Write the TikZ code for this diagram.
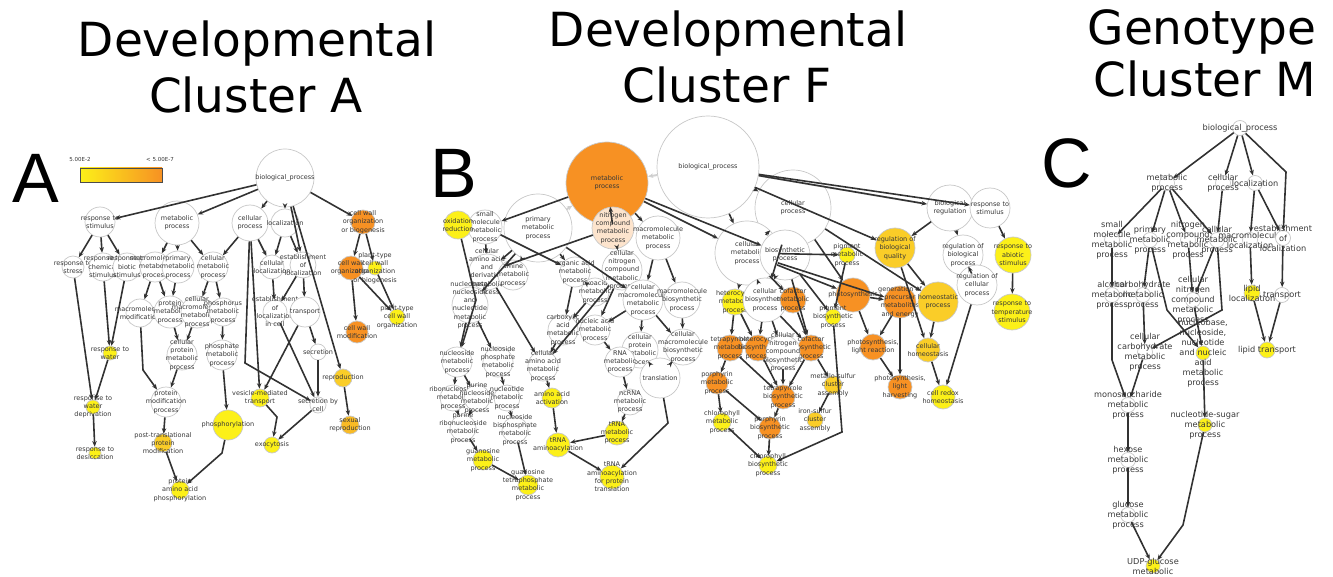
\documentclass[tikz,border=0pt]{standalone}
\usepackage{fontspec}
\newfontfamily\termfont{DejaVu Sans}
\newfontfamily\headfont{DejaVu Sans}
\newfontfamily\panelfont{Liberation Sans}
\usetikzlibrary{arrows.meta}
\definecolor{pvalLow}{RGB}{252,240,25}
\definecolor{pvalMid}{RGB}{250,205,40}
\definecolor{pvalHigh}{RGB}{247,145,35}
\definecolor{pvalPeach}{RGB}{253,228,205}
\definecolor{rimGray}{RGB}{200,200,200}
\definecolor{edgeDark}{RGB}{50,50,50}
\definecolor{labelInk}{RGB}{55,55,55}
\tikzset{
  term/.style={circle, draw=rimGray, line width=0.7pt, inner sep=0pt},
  wt/.style={term, fill=white},
  yl/.style={term, fill=pvalLow},
  gd/.style={term, fill=pvalMid},
  og/.style={term, fill=pvalHigh},
  pc/.style={term, fill=pvalPeach},
  lbl/.style={font=\termfont\fontsize{6.5}{8.3}\selectfont, text=labelInk, align=center, inner sep=0pt},
  lblC/.style={font=\termfont\fontsize{8.2}{10}\selectfont, text=labelInk, align=center, inner sep=0pt},
  txt/.style={label={[lbl]center:{#1}}},
  txtC/.style={label={[lblC]center:{#1}}},
  link/.style={-{Stealth[length=5.5pt,width=4.5pt]}, line width=1.6pt, draw=edgeDark},
  faintlink/.style={link, draw=black!18, line width=2pt},
  headline/.style={font=\headfont\fontsize{47}{57}\selectfont, anchor=base},
  panel/.style={font=\panelfont\fontsize{70}{80}\selectfont, anchor=base}
}
\begin{document}
\begin{tikzpicture}[x=1pt, y=-1pt]
\useasboundingbox (0,0) rectangle (1333,577);

% headings
\node[headline] (headA1) at (257,57)  {Developmental};
\node[headline] (headA2) at (256,113) {Cluster A};
\node[headline] (headB1) at (728,47)  {Developmental};
\node[headline] (headB2) at (727,103) {Cluster F};
\node[headline] (headC1) at (1202,45) {Genotype};
\node[headline] (headC2) at (1205,97) {Cluster M};
\node[panel] (letA) at (36,203)   {A};
\node[panel] (letB) at (454,198)  {B};
\node[panel] (letC) at (1067,188) {C};

% p-value colour scale
\shade[left color=pvalLow, right color=pvalHigh, draw=black!70, line width=0.5pt]
  (80,168) rectangle (162,182);
\node[lbl, font=\termfont\fontsize{5.5}{6}\selectfont] (scaleLo) at (80,159)  {5.00E-2};
\node[lbl, font=\termfont\fontsize{5.5}{6}\selectfont] (scaleHi) at (160,159) {< 5.00E-7};

%% ---------------- panel A ----------------
\node[wt, minimum size=58, txt={biological\_process}] (bpA) at (285,178) {};
\node[wt, minimum size=30, txt={response to\\stimulus}] (rstimA) at (100,222) {};
\node[wt, minimum size=44, txt={metabolic\\process}] (metA) at (177,223) {};
\node[wt, minimum size=36, txt={cellular\\process}] (cellA) at (250,223) {};
\node[wt, minimum size=28, txt={localization}] (locA) at (285,223) {};
\node[og, minimum size=24, txt={cell wall\\organization\\or biogenesis}] (cwobA) at (363,222) {};
\node[wt, minimum size=22, txt={response to\\stress}] (rstressA) at (73,267) {};
\node[wt, minimum size=28, txt={response to\\chemical\\stimulus}] (rchemA) at (103,267) {};
\node[wt, minimum size=28, txt={response to\\biotic\\stimulus}] (rbioA) at (127,267) {};
\node[wt, minimum size=30, txt={macromolecule\\metabolic\\process}] (macmetA) at (155,267) {};
\node[wt, minimum size=32, txt={primary\\metabolic\\process}] (primA) at (178,267) {};
\node[wt, minimum size=30, txt={cellular\\metabolic\\process}] (cellmetA) at (213,267) {};
\node[wt, minimum size=24, txt={cellular\\localization}] (cellocA) at (272,267) {};
\node[wt, minimum size=26, txt={establishment\\of\\localization}] (estlocA) at (303,265) {};
\node[og, minimum size=24, txt={cell wall\\organization}] (cwoA) at (351,268) {};
\node[yl, minimum size=14, txt={plant-type\\cell wall\\organization\\or biogenesis}] (ptcwobA) at (375,268) {};
\node[yl, minimum size=16, txt={plant-type\\cell wall\\organization}] (ptcwA) at (397,317) {};
\node[og, minimum size=22, txt={cell wall\\modification}] (cwmA) at (357,332) {};
\node[wt, minimum size=28, txt={macromolecule\\modification}] (macmodA) at (140,313) {};
\node[wt, minimum size=32, txt={protein\\metabolic\\process}] (protmetA) at (170,312) {};
\node[wt, minimum size=32, txt={cellular\\macromolecule\\metabolic\\process}] (cmacmetA) at (197,312) {};
\node[wt, minimum size=28, txt={phosphorus\\metabolic\\process}] (phosphorusA) at (223,312) {};
\node[wt, minimum size=24, txt={establishment\\of\\localization\\in cell}] (elcA) at (275,312) {};
\node[wt, minimum size=30, txt={transport}] (transA) at (305,312) {};
\node[yl, minimum size=14, txt={response to\\water}] (rwaterA) at (110,353) {};
\node[wt, minimum size=30, txt={cellular\\protein\\metabolic\\process}] (cprotA) at (182,355) {};
\node[wt, minimum size=30, txt={phosphate\\metabolic\\process}] (phosphateA) at (222,355) {};
\node[wt, minimum size=16, txt={secretion}] (secA) at (318,352) {};
\node[gd, minimum size=18, txt={reproduction}] (reprA) at (343,378) {};
\node[wt, minimum size=30, txt={protein\\modification\\process}] (protmodA) at (166,402) {};
\node[yl, minimum size=14, txt={response to\\water\\deprivation}] (rwdA) at (93,407) {};
\node[yl, minimum size=18, txt={vesicle-mediated\\transport}] (vesA) at (260,398) {};
\node[wt, minimum size=16, txt={secretion by\\cell}] (secbcA) at (318,405) {};
\node[yl, minimum size=30, txt={phosphorylation}] (phosA) at (228,425) {};
\node[gd, minimum size=18, txt={post-translational\\protein\\modification}] (ptmA) at (163,443) {};
\node[yl, minimum size=12, txt={response to\\desiccation}] (rdesA) at (95,453) {};
\node[yl, minimum size=16, txt={exocytosis}] (exoA) at (272,445) {};
\node[gd, minimum size=18, fill=pvalMid!70!pvalHigh, txt={sexual\\reproduction}] (sexA) at (350,425) {};
\node[yl, minimum size=18, txt={protein\\amino acid\\phosphorylation}] (paapA) at (180,490) {};

\draw[link] (bpA) edge (rstimA) edge (metA) edge (cellA) edge (locA) edge (estlocA) edge (cwobA) edge (reprA);
\draw[link] (rstimA) edge (rstressA) edge (rchemA) edge (rbioA);
\draw[link] (metA) edge (macmetA) edge (primA) edge (cellmetA);
\draw[link] (cellA) edge (cellmetA) edge (cellocA) edge (vesA);
\draw[link] (cellA) -- (245,363) -- (secbcA);
\draw[link] (locA) edge (cellocA) edge (estlocA);
\draw[link] (cwobA) edge (cwoA) edge (ptcwobA);
\draw[link] (cwoA) edge (cwmA) edge (ptcwA);
\draw[link] (ptcwobA) edge (ptcwA);
\draw[link] (rstressA) edge (rwdA);
\draw[link] (rchemA) edge (rwaterA);
\draw[link] (rbioA) edge (rwaterA);
\draw[link] (rwaterA) edge (rwdA);
\draw[link] (rwdA) edge (rdesA);
\draw[link] (macmetA) edge (macmodA) edge (protmetA);
\draw[link] (primA) edge (protmetA);
\draw[link] (cellmetA) edge (cmacmetA) edge (phosphorusA);
\draw[link] (macmodA) -- (143,370) -- (protmodA);
\draw[link] (protmetA) edge (cprotA);
\draw[link] (cmacmetA) edge (cprotA);
\draw[link] (cprotA) edge (protmodA);
\draw[link] (phosphorusA) edge (phosphateA);
\draw[link] (phosphateA) edge (phosA);
\draw[link] (protmodA) edge (ptmA);
\draw[link] (ptmA) edge (paapA);
\draw[link] (phosA) -- (222,453) -- (paapA);
\draw[link] (estlocA) edge (transA) edge (elcA);
\draw[link] (cellocA) edge (elcA);
\draw[link] (transA) edge (vesA) edge (secA);
\draw[link] (elcA) edge (secbcA);
\draw[link] (secA) edge (secbcA);
\draw[link] (vesA) -- (277,417) -- (exoA);
\draw[link] (secbcA) edge (exoA);
\draw[link] (reprA) edge (sexA);

%% ---------------- panel B ----------------
\node[wt, minimum size=102, txt={biological\_process}] (bpB) at (708,167) {};
\node[og, minimum size=82, txt={metabolic\\process}] (metB) at (607,183) {};
\node[wt, minimum size=76, txt={cellular\\process}] (cellB) at (793,208) {};
\node[wt, minimum size=68, txt={primary\\metabolic\\process}] (primB) at (538,228) {};
\node[wt, minimum size=34, txt={small\\molecule\\metabolic\\process}] (smB) at (485,227) {};
\node[yl, minimum size=28, txt={oxidation\\reduction}] (oxB) at (458,225) {};
\node[pc, minimum size=42, txt={nitrogen\\compound\\metabolic\\process}] (nitB) at (613,228) {};
\node[wt, minimum size=44, txt={macromolecule\\metabolic\\process}] (macB) at (658,238) {};
\node[wt, minimum size=64, txt={cellular\\metabolic\\process}] (cmetB) at (747,253) {};
\node[wt, minimum size=50, txt={biosynthetic\\process}] (biosB) at (785,255) {};
\node[wt, minimum size=46, txt={biological\\regulation}] (bregB) at (950,208) {};
\node[wt, minimum size=40, txt={response to\\stimulus}] (rstimB) at (990,208) {};
\node[yl, minimum size=16, txt={pigment\\metabolic\\process}] (pigB) at (847,255) {};
\node[gd, minimum size=40, txt={regulation of\\biological\\quality}] (rbqB) at (895,248) {};
\node[wt, minimum size=40, txt={regulation of\\biological\\process}] (rbpB) at (963,255) {};
\node[yl, minimum size=36, txt={response to\\abiotic\\stimulus}] (rasB) at (1013,255) {};
\node[wt, minimum size=40, txt={regulation of\\cellular\\process}] (rcpB) at (977,285) {};
\node[og, minimum size=34, txt={photosynthesis}] (photB) at (853,295) {};
\node[og, minimum size=32, txt={generation of\\precursor\\metabolites\\and energy}] (genB) at (900,302) {};
\node[gd, minimum size=40, txt={homeostatic\\process}] (homB) at (938,302) {};
\node[yl, minimum size=36, txt={response to\\temperature\\stimulus}] (rtsB) at (1012,312) {};
\node[yl, minimum size=16, txt={pigment\\biosynthetic\\process}] (pbioB) at (833,317) {};
\node[og, minimum size=26, txt={photosynthesis,\\light reaction}] (plrB) at (873,347) {};
\node[gd, minimum size=24, txt={cellular\\homeostasis}] (chomB) at (928,350) {};
\node[og, minimum size=24, txt={photosynthesis,\\light\\harvesting}] (plhB) at (900,387) {};
\node[yl, minimum size=24, txt={cell redox\\homeostasis}] (crhB) at (943,397) {};
\node[og, minimum size=26, txt={cofactor\\biosynthetic\\process}] (cofbB) at (811,348) {};
\node[gd, minimum size=18, txt={metallo-sulfur\\cluster\\assembly}] (mscB) at (833,385) {};
\node[gd, minimum size=16, txt={iron-sulfur\\cluster\\assembly}] (iscB) at (815,420) {};

\node[wt, minimum size=36, txt={cellular\\amino acid\\and\\derivative\\metabolic\\process}] (caadB) at (487,272) {};
\node[wt, minimum size=30, txt={amine\\metabolic\\process}] (amineB) at (513,275) {};
\node[wt, minimum size=36, txt={nucleobase,\\nucleoside\\and\\nucleotide\\metabolic\\process}] (ncaB) at (470,305) {};
\node[wt, minimum size=30, txt={organic acid\\metabolic\\process}] (oaB) at (575,272) {};
\node[wt, minimum size=28, txt={oxoacid\\metabolic\\process}] (oxoB) at (595,292) {};
\node[wt, minimum size=40, txt={cellular\\nitrogen\\compound\\metabolic\\process}] (cncB) at (622,270) {};
\node[wt, minimum size=30, txt={carboxylic\\acid\\metabolic\\process}] (carbB) at (563,330) {};
\node[wt, minimum size=30, txt={nucleic acid\\metabolic\\process}] (nucaB) at (595,330) {};
\node[wt, minimum size=40, txt={cellular\\macromolecule\\metabolic\\process}] (cmmB) at (643,300) {};
\node[wt, minimum size=36, txt={macromolecule\\biosynthetic\\process}] (mbsB) at (682,300) {};
\node[wt, minimum size=36, txt={cellular\\protein\\metabolic\\process}] (cpmB) at (640,350) {};
\node[wt, minimum size=36, txt={cellular\\macromolecule\\biosynthetic\\process}] (cmbB) at (683,347) {};
\node[wt, minimum size=40, txt={translation}] (trlB) at (660,378) {};
\node[wt, minimum size=30, txt={RNA\\metabolic\\process}] (rnaB) at (620,362) {};
\node[wt, minimum size=26, txt={ncRNA\\metabolic\\process}] (ncrB) at (630,402) {};
\node[yl, minimum size=24, txt={tRNA\\metabolic\\process}] (trnaB) at (617,433) {};
\node[wt, minimum size=30, txt={cellular\\amino acid\\metabolic\\process}] (caaB) at (543,366) {};
\node[yl, minimum size=20, txt={amino acid\\activation}] (aaaB) at (552,398) {};
\node[yl, minimum size=24, txt={tRNA\\aminoacylation}] (traB) at (558,445) {};
\node[yl, minimum size=24, txt={tRNA\\aminoacylation\\for protein\\translation}] (trpB) at (612,477) {};
\node[wt, minimum size=30, txt={nucleoside\\metabolic\\process}] (nsmB) at (457,362) {};
\node[wt, minimum size=30, txt={nucleoside\\phosphate\\metabolic\\process}] (nspB) at (498,362) {};
\node[wt, minimum size=26, txt={ribonucleoside\\metabolic\\process}] (rnsB) at (453,398) {};
\node[wt, minimum size=26, txt={purine\\nucleoside\\metabolic\\process}] (pnsB) at (477,398) {};
\node[wt, minimum size=26, txt={nucleotide\\metabolic\\process}] (ntB) at (507,398) {};
\node[wt, minimum size=26, txt={purine\\ribonucleoside\\metabolic\\process}] (prnB) at (463,428) {};
\node[wt, minimum size=26, txt={nucleoside\\bisphosphate\\metabolic\\process}] (nbpB) at (515,430) {};
\node[yl, minimum size=20, txt={guanosine\\metabolic\\process}] (guaB) at (483,460) {};
\node[yl, minimum size=20, txt={guanosine\\tetraphosphate\\metabolic\\process}] (gtpB) at (528,485) {};
\node[yl, minimum size=26, txt={heterocycle\\metabolic\\process}] (hetB) at (735,302) {};
\node[wt, minimum size=44, txt={cellular\\biosynthetic\\process}] (cbsB) at (765,300) {};
\node[og, minimum size=26, txt={cofactor\\metabolic\\process}] (cofmB) at (793,300) {};
\node[og, minimum size=26, txt={tetrapyrrole\\metabolic\\process}] (tpmB) at (730,348) {};
\node[og, minimum size=26, txt={heterocycle\\biosynthetic\\process}] (hbsB) at (758,348) {};
\node[wt, minimum size=34, txt={cellular\\nitrogen\\compound\\biosynthetic\\process}] (cnbB) at (783,352) {};
\node[og, minimum size=22, txt={porphyrin\\metabolic\\process}] (porB) at (717,383) {};
\node[og, minimum size=24, txt={tetrapyrrole\\biosynthetic\\process}] (tpbB) at (783,397) {};
\node[yl, minimum size=18, txt={chlorophyll\\metabolic\\process}] (chlB) at (722,422) {};
\node[og, minimum size=22, txt={porphyrin\\biosynthetic\\process}] (pobB) at (770,428) {};
\node[yl, minimum size=18, txt={chlorophyll\\biosynthetic\\process}] (chbB) at (768,465) {};

\draw[faintlink] (bpB) edge (metB) edge (bregB);
\draw[faintlink] (primB) edge (metB);
\draw[link] (bpB) edge (cellB) edge (bregB) edge (rstimB) edge (cmetB) edge (rbqB);
\draw[link] (metB) edge (smB) edge (nitB) edge (macB) edge (cmetB) edge (biosB);
\draw[link] (smB) edge (caadB) edge (oaB);
\draw[link] (oxB) -- (476,300) -- (nsmB);
\draw[link] (cellB) edge (cmetB) edge (cbsB) edge (homB) edge (photB);
\draw[link] (bregB) edge (rbqB) edge (rbpB);
\draw[link] (rbpB) edge (rcpB);
\draw[link] (rstimB) edge (rasB);
\draw[link] (rasB) edge (rtsB);
\draw[link] (rbqB) edge (homB) edge (chomB);
\draw[link] (homB) edge (chomB);
\draw[link] (chomB) edge (crhB);
\draw[link] (rcpB) edge (crhB);
\draw[link] (cmetB) edge (photB) edge (genB) edge (pigB) edge (hetB) edge (cbsB) edge (cofmB);
\draw[link] (pigB) edge (pbioB);
\draw[link] (biosB) edge (pbioB) edge (cbsB) edge (cofbB);
\draw[link] (photB) edge (plrB) edge (genB);
\draw[link] (genB) edge (plrB) edge (plhB);
\draw[link] (plrB) edge (plhB);
\draw[link] (cofmB) edge (cofbB);
\draw[link] (cbsB) edge (hbsB) edge (cnbB) edge (cofbB);
\draw[link] (hetB) edge (tpmB) edge (hbsB);
\draw[link] (tpmB) edge (porB) edge (tpbB);
\draw[link] (hbsB) edge (tpbB);
\draw[link] (cnbB) edge (tpbB);
\draw[link] (cofbB) edge (tpbB) edge (mscB);
\draw[link] (porB) edge (chlB) edge (pobB);
\draw[link] (tpbB) edge (pobB);
\draw[link] (chlB) edge (chbB);
\draw[link] (pobB) edge (chbB);
\draw[link] (mscB) edge (iscB);
\draw[link] (pbioB) -- (842,432) -- (chbB);
\draw[link] (primB) edge (caadB) edge (amineB) edge (ncaB) edge (oaB) edge (cmmB);
\draw[link] (nitB) edge (cncB) edge (caadB);
\draw[link] (macB) edge (cmmB) edge (mbsB);
\draw[link] (cmmB) edge (cpmB) edge (cmbB) edge (nucaB);
\draw[link] (mbsB) edge (cmbB);
\draw[link] (cpmB) edge (trlB);
\draw[link] (cmbB) edge (trlB);
\draw[link] (oaB) edge (carbB) edge (oxoB);
\draw[link] (oxoB) edge (carbB);
\draw[link] (carbB) edge (caaB);
\draw[link] (cncB) edge (caaB) edge (nucaB);
\draw[link] (caadB) edge (caaB);
\draw[link] (nucaB) edge (rnaB);
\draw[link] (rnaB) edge (ncrB);
\draw[link] (ncrB) edge (trnaB);
\draw[link] (trnaB) edge (traB);
\draw[link] (caaB) edge (aaaB);
\draw[link] (aaaB) edge (traB);
\draw[link] (traB) edge (trpB);
\draw[link] (trlB) -- (668,423) -- (trpB);
\draw[link] (ncaB) edge (nsmB) edge (nspB);
\draw[link] (nsmB) edge (rnsB) edge (pnsB);
\draw[link] (nspB) edge (ntB);
\draw[link] (rnsB) edge (prnB);
\draw[link] (pnsB) edge (prnB);
\draw[link] (ntB) edge (nbpB);
\draw[link] (prnB) edge (guaB);
\draw[link] (nbpB) edge (gtpB);
\draw[link] (guaB) edge (gtpB);

%% ---------------- panel C ----------------
\node[wt, minimum size=15, txtC={biological\_process}] (bpC) at (1240,128) {};
\node[wt, minimum size=15, txtC={metabolic\\process}] (metC) at (1167,183) {};
\node[wt, minimum size=15, txtC={cellular\\process}] (cpC) at (1223,183) {};
\node[wt, minimum size=15, txtC={localization}] (locC) at (1255,183) {};
\node[wt, minimum size=15, txtC={small\\molecule\\metabolic\\process}] (smC) at (1112,240) {};
\node[wt, minimum size=15, txtC={primary\\metabolic\\process}] (primC) at (1150,240) {};
\node[wt, minimum size=15, txtC={nitrogen\\compound\\metabolic\\process}] (nitC) at (1188,240) {};
\node[wt, minimum size=15, txtC={cellular\\metabolic\\process}] (cmetC) at (1217,240) {};
\node[wt, minimum size=15, txtC={macromolecule\\localization}] (mlocC) at (1250,240) {};
\node[wt, minimum size=15, txtC={establishment\\of\\localization}] (estC) at (1283,238) {};
\node[wt, minimum size=15, txtC={alcohol\\metabolic\\process}] (alcC) at (1112,295) {};
\node[wt, minimum size=15, txtC={carbohydrate\\metabolic\\process}] (carbC) at (1143,295) {};
\node[wt, minimum size=15, txtC={cellular\\nitrogen\\compound\\metabolic\\process}] (cncC) at (1193,300) {};
\node[yl, minimum size=16, txtC={lipid\\localization}] (llocC) at (1252,293) {};
\node[wt, minimum size=15, txtC={transport}] (trC) at (1282,295) {};
\node[wt, minimum size=15, txtC={cellular\\carbohydrate\\metabolic\\process}] (ccC) at (1145,352) {};
\node[yl, minimum size=14, txtC={nucleobase,\\nucleoside,\\nucleotide\\and nucleic\\acid\\metabolic\\process}] (nbC) at (1203,353) {};
\node[yl, minimum size=16, txtC={lipid transport}] (ltC) at (1267,350) {};
\node[wt, minimum size=15, txtC={monosaccharide\\metabolic\\process}] (monC) at (1128,405) {};
\node[yl, minimum size=14, txtC={nucleotide-sugar\\metabolic\\process}] (nsC) at (1205,425) {};
\node[wt, minimum size=15, txtC={hexose\\metabolic\\process}] (hexC) at (1128,460) {};
\node[wt, minimum size=15, txtC={glucose\\metabolic\\process}] (gluC) at (1128,515) {};
\node[yl, minimum size=14, txtC={UDP-glucose\\metabolic}] (udpC) at (1153,566) {};

\draw[link] (bpC) edge (metC) edge (cpC) edge (locC);
\draw[link] (bpC) -- (1286,172) -- (estC);
\draw[link] (metC) edge (smC) edge (primC) edge (nitC) edge (cmetC);
\draw[link] (cpC) edge (cmetC);
\draw[link] (locC) edge (mlocC) edge (estC);
\draw[link] (smC) edge (alcC);
\draw[link] (primC) edge (carbC);
\draw[link] (primC) -- (1167,310) -- (nbC);
\draw[link] (nitC) edge (cncC);
\draw[link] (cmetC) edge (cncC);
\draw[link] (cmetC) -- (1222,310) -- (ccC);
\draw[link] (mlocC) edge (llocC);
\draw[link] (estC) edge (trC);
\draw[link] (llocC) edge (ltC);
\draw[link] (trC) edge (ltC);
\draw[link] (alcC) -- (1112,360) -- (monC);
\draw[link] (carbC) edge (ccC);
\draw[link] (ccC) edge (monC);
\draw[link] (cncC) edge (nbC);
\draw[link] (nbC) edge (nsC);
\draw[link] (monC) edge (hexC);
\draw[link] (hexC) edge (gluC);
\draw[link] (gluC) edge (udpC);
\draw[link] (nsC) -- (1183,525) -- (udpC);
\end{tikzpicture}
\end{document}
